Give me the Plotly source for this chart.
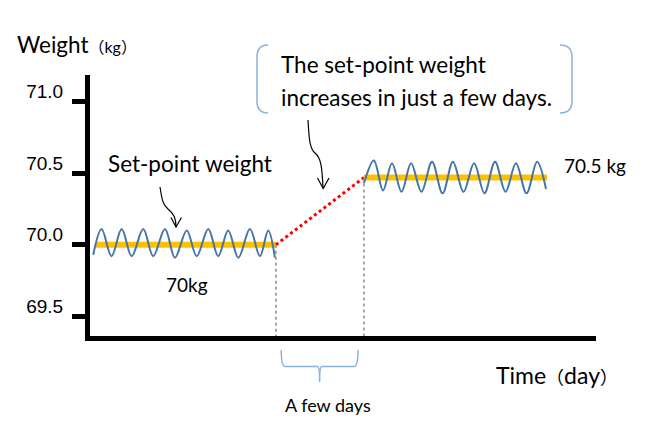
import plotly.graph_objects as go

# ---------------- data ----------------
left_wave_day = [0.26, 0.67, 1.16, 1.66, 2.15, 2.72, 3.21, 3.79, 4.28, 4.86,
                 5.35, 5.92, 6.41, 6.90, 7.40, 7.97, 8.46, 8.87, 9.20]
left_wave_kg = [69.93, 70.11, 69.92, 70.11, 69.92, 70.11, 69.92, 70.11, 69.91, 70.10,
                69.92, 70.11, 69.92, 70.10, 69.91, 70.11, 69.92, 70.10, 69.91]

right_wave_day = [13.58, 14.07, 14.52, 14.96, 15.43, 15.90, 16.41, 16.93, 17.45, 17.96,
                  18.48, 19.00, 19.51, 20.03, 20.55, 21.06, 21.58, 22.10, 22.54]
right_wave_kg = [70.43, 70.59, 70.38, 70.57, 70.37, 70.57, 70.37, 70.58, 70.36, 70.58,
                 70.37, 70.57, 70.36, 70.58, 70.37, 70.57, 70.36, 70.58, 70.39]

setpoint_left_day = [0.39, 9.25]
setpoint_left_kg = [70.0, 70.0]
setpoint_right_day = [13.58, 22.59]
setpoint_right_kg = [70.47, 70.47]

y_tickvals = [69.5, 70.0, 70.5, 71.0]
y_ticktext = ["69.5", "70.0", "70.5", "71.0"]

# ---------------- layout geometry ----------------
W, H = 650, 448
L, R, T, B = 90, 596, 75, 336
X_RANGE = [0.1, 25.0]
Y_RANGE = [69.362, 71.187]


def px(xp, yp):
    return (xp - L) / (R - L), (B - yp) / (B - T)


def path(cmds):
    out = []
    for c in cmds:
        if isinstance(c, str):
            out.append(c)
        else:
            x, y = px(*c)
            out.append(f"{x:.5f},{y:.5f}")
    return " ".join(out)


BLUE_WAVE = "#4575A6"
GOLD = "#FFC000"
BRACKET = "#8AB2DA"
TXT_FONT = "Lato, Noto Sans CJK JP, sans-serif"

fig = go.Figure()

# set-point bars
fig.add_trace(go.Scatter(x=setpoint_left_day, y=setpoint_left_kg, mode="lines",
                         line=dict(color=GOLD, width=6), hoverinfo="skip"))
fig.add_trace(go.Scatter(x=setpoint_right_day, y=setpoint_right_kg, mode="lines",
                         line=dict(color=GOLD, width=6), hoverinfo="skip"))
# ramp
fig.add_trace(go.Scatter(x=[setpoint_left_day[-1], setpoint_right_day[0]],
                         y=[setpoint_left_kg[-1], setpoint_right_kg[0]], mode="lines",
                         line=dict(color="#FF0000", width=3, dash="3px,3px"), hoverinfo="skip"))
# waves
fig.add_trace(go.Scatter(x=left_wave_day, y=left_wave_kg, mode="lines",
                         line=dict(color=BLUE_WAVE, width=2, shape="spline", smoothing=1.0),
                         hoverinfo="skip"))
fig.add_trace(go.Scatter(x=right_wave_day, y=right_wave_kg, mode="lines",
                         line=dict(color=BLUE_WAVE, width=2, shape="spline", smoothing=1.0),
                         hoverinfo="skip"))

shapes = []
# gray dotted guide lines
for d, k in [(setpoint_left_day[-1], setpoint_left_kg[-1]), (setpoint_right_day[0], setpoint_right_kg[0])]:
    shapes.append(dict(type="line", xref="x", yref="y", x0=d, x1=d, y0=k, y1=Y_RANGE[0],
                       line=dict(color="#8C8C8C", width=1.5, dash="dot")))

# brace below the axis (x in days, y in paper)
bl, br = 9.51, 13.29
bc = (bl + br) / 2
y_top = (B - 350) / (B - T)
y_bot = (B - 366.5) / (B - T)
y_tip = (B - 382) / (B - T)
brace = (f"M {bl},{y_top} Q {bl},{y_bot} {bl+0.2},{y_bot} L {bc-0.1},{y_bot} "
         f"Q {bc},{y_bot} {bc},{y_tip} Q {bc},{y_bot} {bc+0.1},{y_bot} "
         f"L {br-0.2},{y_bot} Q {br},{y_bot} {br},{y_top}")
shapes.append(dict(type="path", xref="x", yref="paper", path=brace,
                   line=dict(color=BRACKET, width=1.5)))

# callout brackets
shapes.append(dict(type="path", xref="paper", yref="paper",
                   path=path(["M", (268, 45), "Q", (257, 45), (257, 57), "L", (257, 101),
                              "Q", (257, 113), (268, 113)]),
                   line=dict(color=BRACKET, width=1.5)))
shapes.append(dict(type="path", xref="paper", yref="paper",
                   path=path(["M", (560, 45), "Q", (572, 45), (572, 57), "L", (572, 101),
                              "Q", (572, 113), (560, 113)]),
                   line=dict(color=BRACKET, width=1.5)))

# curved arrows
shapes.append(dict(type="path", xref="paper", yref="paper",
                   path=path(["M", (160, 187), "C", (162, 200), (163, 205), (168, 209),
                              "C", (174, 214), (176, 218), (176, 227)]),
                   line=dict(color="black", width=1.2)))
shapes.append(dict(type="path", xref="paper", yref="paper",
                   path=path(["M", (171, 217.5), "L", (176, 227), "L", (181.5, 217.5)]),
                   line=dict(color="black", width=1.2)))
shapes.append(dict(type="path", xref="paper", yref="paper",
                   path=path(["M", (308, 120), "C", (309, 135), (309, 148), (315, 153),
                              "C", (321, 158), (322, 166), (323, 188)]),
                   line=dict(color="black", width=1.2)))
shapes.append(dict(type="path", xref="paper", yref="paper",
                   path=path(["M", (317.5, 178), "L", (323.2, 188.5), "L", (329, 178)]),
                   line=dict(color="black", width=1.2)))


def ann(text, xp, yp, size, xanchor="left", family=TXT_FONT):
    x, y = px(xp, yp)
    return dict(text=text, x=x, y=y, xref="paper", yref="paper", xanchor=xanchor,
                yanchor="middle", showarrow=False, font=dict(family=family, size=size, color="black"))


annotations = [
    ann("Weight<span style='font-size:16px'>（kg）</span>", 15, 45, 22.5),
    ann("The set-point weight", 279, 65, 22.5),
    ann("increases in just a few days.", 279, 97, 22.5),
    ann("Set-point weight", 106, 163, 22.5),
    ann("70kg", 164, 284, 19),
    ann("70.5 kg", 562, 165, 19),
    ann("Time<span style='font-size:18px'>（</span>day<span style='font-size:18px'>）</span>",
        494, 375, 23),
    ann("A few days", 283, 405, 18),
]

fig.update_layout(
    width=W, height=H,
    margin=dict(l=L, r=W - R, t=T, b=H - B, pad=0),
    paper_bgcolor="white", plot_bgcolor="white",
    showlegend=False,
    shapes=shapes,
    annotations=annotations,
    xaxis=dict(range=X_RANGE, showline=True, linewidth=5, linecolor="black",
               showgrid=False, zeroline=False, ticks="", showticklabels=False, fixedrange=True),
    yaxis=dict(range=Y_RANGE, showline=True, linewidth=5, linecolor="black",
               showgrid=False, zeroline=False, ticks="outside", ticklen=13, tickwidth=5,
               tickcolor="black", tickvals=y_tickvals, ticktext=y_ticktext,
               ticklabelshift=-10, ticklabelstandoff=5,
               tickfont=dict(family="Liberation Sans, Arial, sans-serif", size=19, color="black"),
               fixedrange=True),
)

fig.write_html("out.html", config={"displayModeBar": False})
